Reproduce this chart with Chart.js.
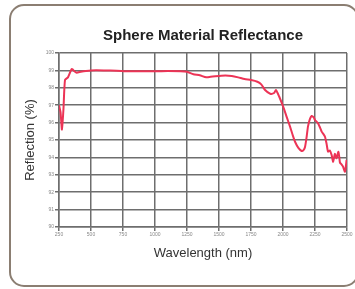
<!DOCTYPE html>
<html>
<head>
<meta charset="utf-8">
<script src="https://cdn.jsdelivr.net/npm/chart.js@4.4.1/dist/chart.umd.min.js"></script>
<style>
  html, body { margin: 0; padding: 0; background: #fff; overflow: hidden; }
  #wrap { position: relative; width: 355px; height: 289px; }
  #frame {
    position: absolute; left: 9px; top: 4px; width: 346px; height: 279px;
    border: 2px solid #8b7e72; border-radius: 15px; box-sizing: content-box;
  }
  canvas { position: absolute; left: 0; top: 0; }
</style>
</head>
<body>
<div id="wrap">
  <div id="frame"></div>
  <canvas id="reflChart" width="355" height="289"></canvas>
</div>
<script>
// wavelength (nm)
const wavelengths = [250, 262, 273, 285, 297, 320, 350, 370, 388, 420, 460, 500, 600, 700, 800, 900, 1000, 1100, 1200, 1250,
  1300, 1350, 1400, 1450, 1500, 1550, 1600, 1650, 1700, 1750, 1800, 1830, 1860, 1900, 1930, 1945, 1970, 2002, 2030, 2055,
  2075, 2094, 2120, 2146, 2160, 2172, 2185, 2195, 2210, 2224, 2240, 2250, 2273, 2290, 2302, 2315, 2328, 2340, 2352, 2366,
  2380, 2392, 2405, 2418, 2432, 2440, 2445, 2457, 2469, 2484, 2497];
// reflection (%)
const reflection = [97.0, 96.6, 95.6, 96.8, 98.45, 98.6, 99.08, 98.95, 98.87, 98.92, 98.97, 99.0, 99.0, 98.98, 98.95, 98.95, 98.95, 98.96, 98.95, 98.92,
  98.78, 98.72, 98.6, 98.65, 98.68, 98.7, 98.68, 98.6, 98.5, 98.45, 98.35, 98.2, 97.87, 97.66, 97.7, 97.87, 97.5, 96.9, 96.3, 95.77,
  95.3, 94.9, 94.55, 94.37, 94.42, 94.6, 95.2, 95.77, 96.2, 96.38, 96.3, 96.15, 95.97, 95.7, 95.48, 95.35, 95.19, 94.8, 94.33, 94.4,
  94.14, 93.75, 94.2, 93.95, 94.33, 94.0, 93.7, 93.6, 93.47, 93.18, 93.85];

const xTicks = [250, 500, 750, 1000, 1250, 1500, 1750, 2000, 2250, 2500];

const points = wavelengths.map((w, i) => ({ x: w, y: reflection[i] }));

const ctx = document.getElementById('reflChart').getContext('2d');
const fontFam = '"Liberation Sans", Arial, sans-serif';

new Chart(ctx, {
  type: 'line',
  data: {
    datasets: [{
      label: 'Reflectance',
      data: points,
      borderColor: '#ec3456',
      borderWidth: 2,
      pointRadius: 0,
      tension: 0.2
    }]
  },
  options: {
    responsive: false,
    animation: false,
    layout: { padding: { left: 20, right: 8, top: 0, bottom: 0 } },
    plugins: {
      legend: { display: false },
      tooltip: { enabled: false },
      title: {
        display: true,
        fullSize: false,
        text: 'Sphere Material Reflectance',
        color: '#222',
        font: { family: fontFam, size: 15, weight: 'bold' },
        padding: { top: 27, bottom: 8 }
      }
    },
    scales: {
      x: {
        type: 'linear',
        min: 250,
        max: 2500,
        afterBuildTicks: (scale) => { scale.ticks = xTicks.map(v => ({ value: v })); },
        afterFit: (scale) => { scale.height = 62; },
        grid: { color: '#6e6e6e', lineWidth: 1.5, tickLength: 4 },
        border: { color: '#6e6e6e', width: 1.5 },
        ticks: {
          color: '#888',
          font: { family: fontFam, size: 5 },
          padding: 1,
          maxRotation: 0,
          callback: (v) => String(v)
        },
        title: {
          display: true,
          text: 'Wavelength (nm)',
          color: '#333',
          font: { family: fontFam, size: 13 },
          padding: { top: 0, bottom: 28 }
        }
      },
      y: {
        min: 90,
        max: 100,
        afterFit: (scale) => { scale.width = 39; },
        grid: { color: '#6e6e6e', lineWidth: 1.5, tickLength: 4 },
        border: { color: '#6e6e6e', width: 1.5 },
        ticks: { stepSize: 1, color: '#888', font: { family: fontFam, size: 5 }, padding: 1 },
        title: {
          display: true,
          text: 'Reflection (%)',
          color: '#333',
          font: { family: fontFam, size: 13 },
          padding: { top: 3, bottom: 0 }
        }
      }
    }
  }
});
</script>
</body>
</html>
